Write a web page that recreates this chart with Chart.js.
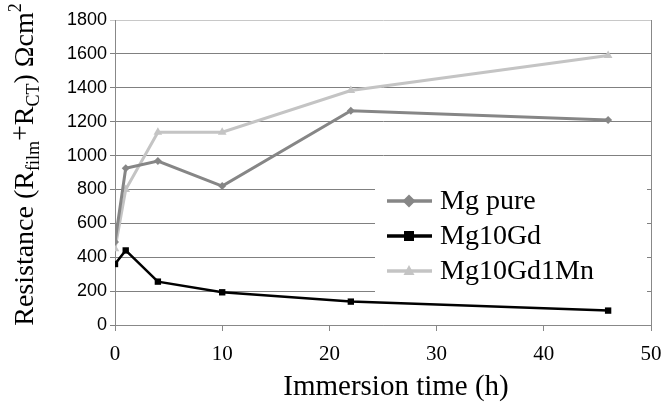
<!DOCTYPE html>
<html>
<head>
<meta charset="utf-8">
<script src="https://cdn.jsdelivr.net/npm/chart.js@4/dist/chart.umd.min.js"></script>
<style>
  html, body { margin: 0; padding: 0; background: #fff; }
  #wrap { width: 662px; height: 403px; position: relative; }
</style>
</head>
<body>
<div id="wrap"><canvas id="chart"></canvas></div>
<script>
'use strict';

// valores (horas de inmersion vs resistencia)
const hours = [0, 1, 4, 10, 22, 46];
const mgPure = [490, 925, 968, 820, 1265, 1210];
const mg10Gd = [360, 440, 256, 193, 138, 85];
const mg10Gd1Mn = [450, 800, 1138, 1138, 1384, 1590];
const seriesNames = ['Mg pure', 'Mg10Gd', 'Mg10Gd1Mn'];
const xTicks = [0, 10, 20, 30, 40, 50];
const yTicks = [0, 200, 400, 600, 800, 1000, 1200, 1400, 1600, 1800];
const xTitle = 'Immersion time (h)';

const SERIF = '"Liberation Serif", "Times New Roman", serif';
const SANS = '"Liberation Sans", Arial, sans-serif';

const toPoints = vals => hours.map((h, i) => ({ x: h, y: vals[i] }));

function makeSet(label, vals, color, style, radius, width) {
  return {
    label, data: toPoints(vals),
    borderColor: color, backgroundColor: color,
    borderWidth: width, pointStyle: style, pointRadius: radius,
    pointBorderWidth: 0, tension: 0
  };
}

// marcador para la leyenda
function drawMarker(ctx, style, x, y, r, color) {
  ctx.fillStyle = color;
  ctx.beginPath();
  if (style === 'rect') {
    ctx.rect(x - r, y - r, r * 2, r * 2);
  } else if (style === 'rectRot') {
    ctx.moveTo(x, y - r * 1.3); ctx.lineTo(x + r * 1.3, y);
    ctx.lineTo(x, y + r * 1.3); ctx.lineTo(x - r * 1.3, y);
  } else {
    ctx.moveTo(x, y - r * 1.2); ctx.lineTo(x + r * 1.1, y + r * 0.8);
    ctx.lineTo(x - r * 1.1, y + r * 0.8);
  }
  ctx.closePath();
  ctx.fill();
}

const extras = {
  id: 'extras',
  beforeDatasetsDraw(chart) {
    const { ctx, chartArea: a } = chart;
    ctx.save();
    // borde derecho
    ctx.strokeStyle = '#888';
    ctx.lineWidth = 1;
    ctx.beginPath();
    ctx.moveTo(a.right + 0.5, a.top);
    ctx.lineTo(a.right + 0.5, a.bottom);
    ctx.stroke();
    // caja blanca de la leyenda
    ctx.fillStyle = '#fff';
    ctx.fillRect(a.left + 260, a.top + 155, a.right - a.left - 264, 124);
    ctx.restore();
  },
  afterDatasetsDraw(chart) {
    const { ctx, chartArea: a } = chart;
    ctx.save();
    // leyenda
    chart.data.datasets.forEach((ds, i) => {
      const y = a.top + 181 + i * 35;
      const x0 = a.left + 272;
      ctx.strokeStyle = ds.borderColor;
      ctx.lineWidth = 3.5;
      ctx.beginPath();
      ctx.moveTo(x0, y); ctx.lineTo(x0 + 45, y);
      ctx.stroke();
      drawMarker(ctx, ds.pointStyle, x0 + 22, y, 5, ds.borderColor);
      ctx.fillStyle = '#000';
      ctx.font = '28px ' + SERIF;
      ctx.textBaseline = 'middle';
      ctx.fillText(ds.label, x0 + 53, y + 1);
    });

    // titulo del eje x, algo corrido a la derecha como en el original
    ctx.font = '29px ' + SERIF;
    ctx.textAlign = 'center';
    ctx.textBaseline = 'alphabetic';
    ctx.fillText(xTitle, (a.left + a.right) / 2 + 13, a.bottom + 70);
    ctx.textAlign = 'left';

    // titulo del eje y con subindices
    const parts = [
      ['Resistance (R', 28, 0], ['film', 18, 6], ['+', 28, -4], ['R', 28, 0],
      ['CT', 18, 6], [') \u03A9cm', 28, 0], ['2', 18, -12]
    ];
    let total = 0;
    parts.forEach(p => { ctx.font = p[1] + 'px ' + SERIF; total += ctx.measureText(p[0]).width; });
    ctx.translate(33, (a.top + a.bottom) / 2 - 8);
    ctx.rotate(-Math.PI / 2);
    ctx.fillStyle = '#000';
    let cx = -total / 2;
    parts.forEach(p => {
      ctx.font = p[1] + 'px ' + SERIF;
      ctx.fillText(p[0], cx, p[2]);
      cx += ctx.measureText(p[0]).width;
    });
    ctx.restore();
  }
};

new Chart(document.getElementById('chart'), {
  type: 'line',
  data: {
    datasets: [
      makeSet(seriesNames[0], mgPure, '#868686', 'rectRot', 4, 3),
      makeSet(seriesNames[1], mg10Gd, '#000000', 'rect', 4.5, 2.5),
      makeSet(seriesNames[2], mg10Gd1Mn, '#c4c4c4', 'triangle', 5, 3)
    ]
  },
  options: {
    responsive: true, maintainAspectRatio: false, animation: false,
    layout: { padding: { top: 20, right: 11, left: 0, bottom: 0 } },
    plugins: { legend: { display: false }, tooltip: { enabled: false } },
    scales: {
      x: {
        type: 'linear', min: 0, max: 50,
        afterBuildTicks: s => { s.ticks = xTicks.map(v => ({ value: v })); },
        afterFit: s => { s.height = 78; s.paddingLeft = 0; s.paddingRight = 0; },
        grid: { drawOnChartArea: false, drawTicks: true, tickLength: 6, color: '#888' },
        border: { color: '#888', width: 1 },
        ticks: { color: '#000', padding: 11, font: { family: SERIF, size: 21 } }
      },
      y: {
        min: 0, max: 1800,
        afterBuildTicks: s => { s.ticks = yTicks.map(v => ({ value: v })); },
        afterFit: s => { s.width = 115; },
        grid: {
          color: c => c.tick && c.tick.value === 1800 ? '#c8c8c8' : '#808080',
          tickLength: 5, lineWidth: 1
        },
        border: { color: '#888', width: 1 },
        ticks: { color: '#000', padding: 3, font: { family: SANS, size: 18 },
          callback: v => String(v) }
      }
    }
  },
  plugins: [extras]
});
</script>
</body>
</html>
